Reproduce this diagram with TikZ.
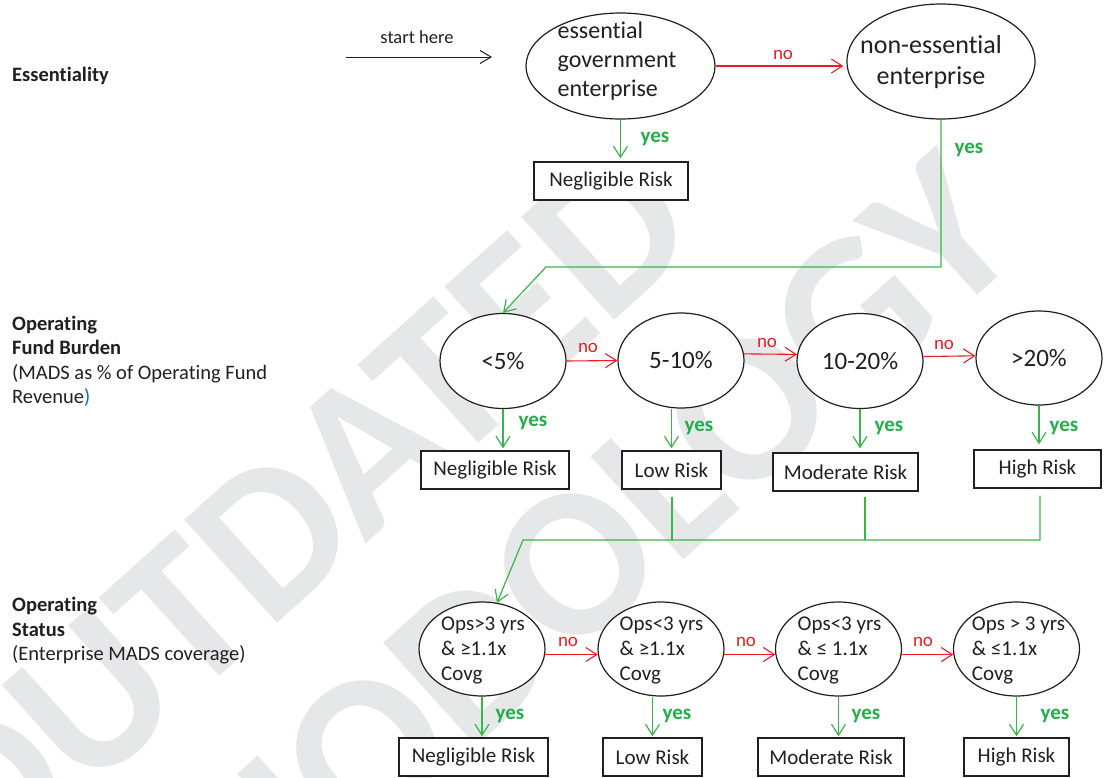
\documentclass[tikz,border=0pt]{standalone}
\usepackage{fontspec}
\setmainfont{Carlito}[Ligatures={NoCommon,NoRare,NoContextual}]
\usetikzlibrary{arrows.meta,shapes.geometric}
\definecolor{tx}{RGB}{35,31,32}
\definecolor{rd}{RGB}{237,28,36}
\definecolor{gn}{RGB}{57,181,74}
\definecolor{gt}{RGB}{34,174,72}
\definecolor{bl}{RGB}{0,112,192}
\definecolor{wmc}{RGB}{230,231,233}
\begin{document}
\begin{tikzpicture}[x=1pt,y=-1pt,
  ell/.style={draw=tx, ellipse, line width=1.2pt, fill=white, inner sep=0pt, text=tx},
  rbox/.style={draw=tx, line width=1.4pt, fill=white, inner sep=0pt, minimum height=38pt, text=tx, font=\fontsize{21}{25}\selectfont},
  otext/.style={align=left, text=tx, inner sep=0pt, font=\fontsize{21}{25}\selectfont},
  noarr/.style={draw=rd, line width=1.1pt, -{Straight Barb[length=11pt,width=14pt]}},
  yesarr/.style={draw=gn, line width=1.2pt, -{Straight Barb[length=11pt,width=14pt]}},
  gline/.style={draw=gn, line width=1.2pt},
  nolbl/.style={text=rd, inner sep=0pt, font=\fontsize{19}{20}\selectfont},
  yeslbl/.style={text=gt, inner sep=0pt, font=\bfseries\fontsize{21}{22}\selectfont},
  side/.style={text=tx, align=left, anchor=west, inner sep=0pt, font=\fontsize{20.5}{24.5}\selectfont},
  wm/.style={text=wmc, inner sep=0pt, rotate=42, font=\bfseries\fontsize{214}{214}\selectfont},
]
\useasboundingbox (0,0) rectangle (1109,777);
\begin{scope}
\clip (0,0) rectangle (1109,777);
\node[wm] (wm1) at (296,514) {OUTDATED};
\node[wm] (wm2) at (450,677) {METHODOLOGY};
\end{scope}

% side labels
\node[side, font=\bfseries\fontsize{20.5}{24.5}\selectfont] (L1) at (12,76) {Essentiality};
\node[side] (L2) at (12,361) {\textbf{Operating}\\\textbf{Fund Burden}\\(MADS as \% of Operating Fund\\Revenue\textcolor{bl}{)}};
\node[side] (L3) at (12,631) {\textbf{Operating}\\\textbf{Status}\\(Enterprise MADS coverage)};

% top row
\coordinate (s0) at (346,57);
\coordinate (s1) at (492,57);
\draw[draw=tx, line width=1pt, -{Straight Barb[length=11pt,width=13pt]}] (s0) -- (s1);
\node[text=tx, inner sep=0pt, font=\fontsize{18.5}{20}\selectfont] (st) at (417,37) {start here};

\node[ell, minimum width=189pt, minimum height=106pt] (E1) at (620.5,66) {};
\node[align=left, text=tx, inner sep=0pt, font=\fontsize{24}{29}\selectfont] (E1t) at (617,61) {essential\\government\\enterprise};
\node[ell, minimum width=188pt, minimum height=115pt] (E2) at (941,61.5) {};
\node[align=center, text=tx, inner sep=0pt, font=\fontsize{26}{31}\selectfont] (E2t) at (931,62.5) {non-essential\\enterprise};
\node[rbox, minimum width=154pt] (B0) at (611,181) {Negligible Risk};

\draw[noarr, shorten >=3pt] (E1.east) -- (E1.east -| E2.west);
\node[nolbl] (n0) at (783,55) {no};
\draw[yesarr, shorten >=3pt] (E1.south) -- (E1.south |- B0.north);
\node[yeslbl] (y0) at (655,139) {yes};

% second row
\node[ell, minimum width=126pt, minimum height=95pt, font=\fontsize{25}{28}\selectfont] (C1) at (503,361) {<5\%};
\node[ell, minimum width=126pt, minimum height=95pt, font=\fontsize{25}{28}\selectfont] (C2) at (681,360.5) {5-10\%};
\node[ell, minimum width=126pt, minimum height=95pt, font=\fontsize{25}{28}\selectfont] (C3) at (860,361) {10-20\%};
\node[ell, minimum width=126pt, minimum height=94pt, font=\fontsize{25}{28}\selectfont] (C4) at (1039,358) {>20\%};

\coordinate (j1) at (941,267);
\coordinate (j2) at (546,267);
\draw[yesarr] (E2.south) -- (j1) -- (j2) -- (C1.north);
\node[yeslbl] (y1) at (969,150) {yes};

\draw[noarr] (C1.east) -- (C2.west);
\draw[noarr] (C2.6) -- (C3.174);
\draw[noarr] (C3.4) -- (C4.178);
\node[nolbl] (n1) at (588,348) {no};
\node[nolbl] (n2) at (767,343) {no};
\node[nolbl] (n3) at (944,345) {no};

\node[rbox, minimum width=148pt] (B1) at (495,470) {Negligible Risk};
\node[rbox, minimum width=99pt] (B2) at (671.5,470) {Low Risk};
\node[rbox, minimum width=145pt] (B3) at (845.5,472) {Moderate Risk};
\node[rbox, minimum width=127pt] (B4) at (1037.5,469) {High Risk};

\draw[yesarr, shorten >=2pt] (C1.south) -- (C1.south |- B1.north);
\draw[yesarr, shorten >=2pt] (C2.south -| B2.north) -- (B2.north);
\draw[yesarr, shorten >=4pt] (C3.south) -- (C3.south |- B3.north);
\draw[yesarr, shorten >=5pt] (C4.south) -- (C4.south |- B4.north);
\node[yeslbl] (y2) at (533,423) {yes};
\node[yeslbl] (y3) at (699,428) {yes};
\node[yeslbl] (y4) at (889,428) {yes};
\node[yeslbl] (y5) at (1064,428) {yes};

% merge
\coordinate (j3) at (523,540);
\coordinate (k2) at (672,540);
\coordinate (k3) at (865,540);
\coordinate (k4) at (1040,540);

% third row
\node[ell, minimum width=126pt, minimum height=94pt] (O1) at (482,649) {};
\node[ell, minimum width=126pt, minimum height=94pt] (O2) at (661,649) {};
\node[ell, minimum width=126pt, minimum height=94pt] (O3) at (838.5,649) {};
\node[ell, minimum width=126pt, minimum height=94pt] (O4) at (1016.5,649) {};
\node[otext] (O1t) at (483,650) {Ops>3 yrs\\\& ≥1.1x\\Covg};
\node[otext] (O2t) at (661.5,650) {Ops<3 yrs\\\& ≥1.1x\\Covg};
\node[otext] (O3t) at (839.5,650) {Ops<3 yrs\\\& ≤ 1.1x\\Covg};
\node[otext] (O4t) at (1018.5,650) {Ops > 3 yrs\\\& ≤1.1x\\Covg};

\draw[gline] (B2.south -| k2) ++(0,7) -- (k2);
\draw[gline] (B3.south -| k3) ++(0,5) -- (k3);
\draw[yesarr] (B4.south -| k4) ++(0,7) -- (k4) -- (j3) -- (O1.72);

\draw[noarr] (O1.-5) -- (O2.-175);
\draw[noarr] (O2.-5) -- (O3.-175);
\draw[noarr] (O3.-5) -- (O4.-175);
\node[nolbl] (n4) at (568,642) {no};
\node[nolbl] (n5) at (746,642) {no};
\node[nolbl] (n6) at (923,642) {no};

\node[rbox, minimum width=149pt] (B5) at (473.5,757) {Negligible Risk};
\node[rbox, minimum width=99pt] (B6) at (652.5,757) {Low Risk};
\node[rbox, minimum width=146pt] (B7) at (831,757) {Moderate Risk};
\node[rbox, minimum width=105pt] (B8) at (1016.5,757) {High Risk};

\draw[yesarr, shorten >=1pt] (O1.south) -- (O1.south |- B5.north);
\draw[yesarr, shorten >=1pt] (O2.south -| B6.north) -- (B6.north);
\draw[yesarr, shorten >=1pt] (O3.south) -- (O3.south |- B7.north);
\draw[yesarr, shorten >=1pt] (O4.south) -- (O4.south |- B8.north);
\node[yeslbl] (y6) at (510,716) {yes};
\node[yeslbl] (y7) at (677,716) {yes};
\node[yeslbl] (y8) at (866,716) {yes};
\node[yeslbl] (y9) at (1055,716) {yes};
\end{tikzpicture}
\end{document}
